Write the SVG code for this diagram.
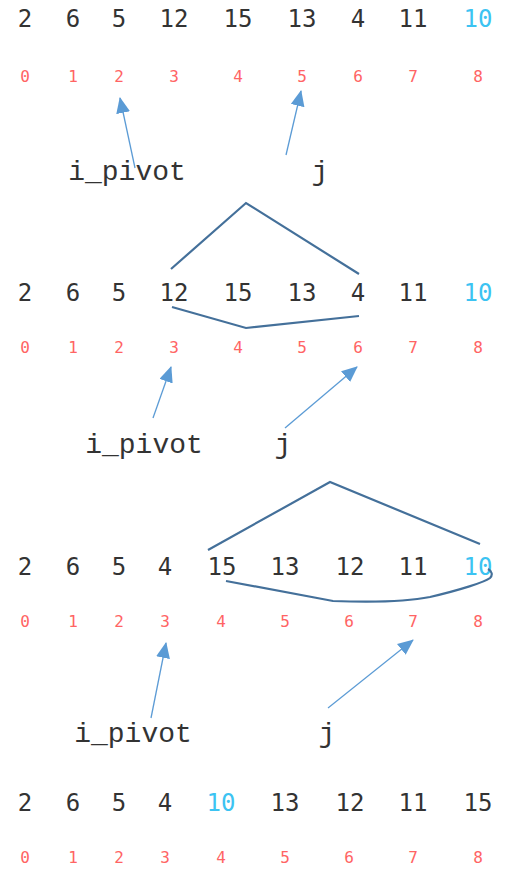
<svg xmlns="http://www.w3.org/2000/svg" width="505" height="869" viewBox="0 0 505 869">
<style>
.n{font-family:"DejaVu Sans Mono","Liberation Mono",monospace;font-size:24px;fill:#333;text-anchor:middle}
.p{fill:#3cc3f2}
.i{font-family:"DejaVu Sans Mono","Liberation Mono",monospace;font-size:16px;fill:#ff6464;text-anchor:middle}
.l{font-family:"Liberation Mono","Courier New",monospace;font-size:28px;fill:#333;text-anchor:middle}
.a{stroke:#5b9bd5;stroke-width:1.3;fill:none;marker-end:url(#ah)}
.b{stroke:#44709a;stroke-width:2.2;fill:none;stroke-linejoin:miter}
</style>
<defs>
<marker id="ah" markerUnits="userSpaceOnUse" markerWidth="16" markerHeight="14" viewBox="0 0 16 14" refX="15" refY="7" orient="auto">
<path d="M0,0 L16,7 L0,14 Z" fill="#5b9bd5"/>
</marker>
</defs>
<g id="row1">
<text class="n" x="25" y="27">2</text><text class="n" x="73" y="27">6</text><text class="n" x="119" y="27">5</text><text class="n" x="174" y="27">12</text><text class="n" x="238" y="27">15</text><text class="n" x="302" y="27">13</text><text class="n" x="358" y="27">4</text><text class="n" x="413" y="27">11</text><text class="n p" x="478" y="27">10</text>
<text class="i" x="25" y="82">0</text><text class="i" x="73" y="82">1</text><text class="i" x="119" y="82">2</text><text class="i" x="174" y="82">3</text><text class="i" x="238" y="82">4</text><text class="i" x="302" y="82">5</text><text class="i" x="358" y="82">6</text><text class="i" x="413" y="82">7</text><text class="i" x="478" y="82">8</text>
<text class="l" x="127" y="180">i_pivot</text><text class="l" x="320" y="180">j</text>
</g>
<g id="row2">
<text class="n" x="25" y="301">2</text><text class="n" x="73" y="301">6</text><text class="n" x="119" y="301">5</text><text class="n" x="174" y="301">12</text><text class="n" x="238" y="301">15</text><text class="n" x="302" y="301">13</text><text class="n" x="358" y="301">4</text><text class="n" x="413" y="301">11</text><text class="n p" x="478" y="301">10</text>
<text class="i" x="25" y="353">0</text><text class="i" x="73" y="353">1</text><text class="i" x="119" y="353">2</text><text class="i" x="174" y="353">3</text><text class="i" x="238" y="353">4</text><text class="i" x="302" y="353">5</text><text class="i" x="358" y="353">6</text><text class="i" x="413" y="353">7</text><text class="i" x="478" y="353">8</text>
<text class="l" x="144" y="453">i_pivot</text><text class="l" x="283" y="453">j</text>
</g>
<g id="row3">
<text class="n" x="25" y="575">2</text><text class="n" x="73" y="575">6</text><text class="n" x="119" y="575">5</text><text class="n" x="165" y="575">4</text><text class="n" x="222" y="575">15</text><text class="n" x="285" y="575">13</text><text class="n" x="350" y="575">12</text><text class="n" x="413" y="575">11</text><text class="n p" x="478" y="575">10</text>
<text class="i" x="25" y="627">0</text><text class="i" x="73" y="627">1</text><text class="i" x="119" y="627">2</text><text class="i" x="165" y="627">3</text><text class="i" x="221" y="627">4</text><text class="i" x="285" y="627">5</text><text class="i" x="349" y="627">6</text><text class="i" x="413" y="627">7</text><text class="i" x="478" y="627">8</text>
<text class="l" x="133" y="742">i_pivot</text><text class="l" x="327" y="742">j</text>
</g>
<g id="row4">
<text class="n" x="25" y="811">2</text><text class="n" x="73" y="811">6</text><text class="n" x="119" y="811">5</text><text class="n" x="165" y="811">4</text><text class="n p" x="221" y="811">10</text><text class="n" x="285" y="811">13</text><text class="n" x="350" y="811">12</text><text class="n" x="413" y="811">11</text><text class="n" x="478" y="811">15</text>
<text class="i" x="25" y="863">0</text><text class="i" x="73" y="863">1</text><text class="i" x="119" y="863">2</text><text class="i" x="165" y="863">3</text><text class="i" x="221" y="863">4</text><text class="i" x="285" y="863">5</text><text class="i" x="349" y="863">6</text><text class="i" x="413" y="863">7</text><text class="i" x="478" y="863">8</text>
</g>
<g id="connectors">
<path class="a" d="M135,168 L120,98"/>
<path class="a" d="M286,155 L301,91"/>
<path class="a" d="M153,418 L171,367"/>
<path class="a" d="M285,428 L357,367"/>
<path class="a" d="M151,718 L166,643"/>
<path class="a" d="M328,708 L413,640"/>
<path class="b" d="M171,269 L246,203 L359,274"/>
<path class="b" d="M172,307 L246,328 L359,316"/>
<path class="b" d="M208,550 L330,482 L480,544"/>
<path class="b" d="M226,581 L333,601 C360,602 400,603 430,597 C460,590 485,582 490,578 C493,575 492,571 488,569"/>
</g>
</svg>
